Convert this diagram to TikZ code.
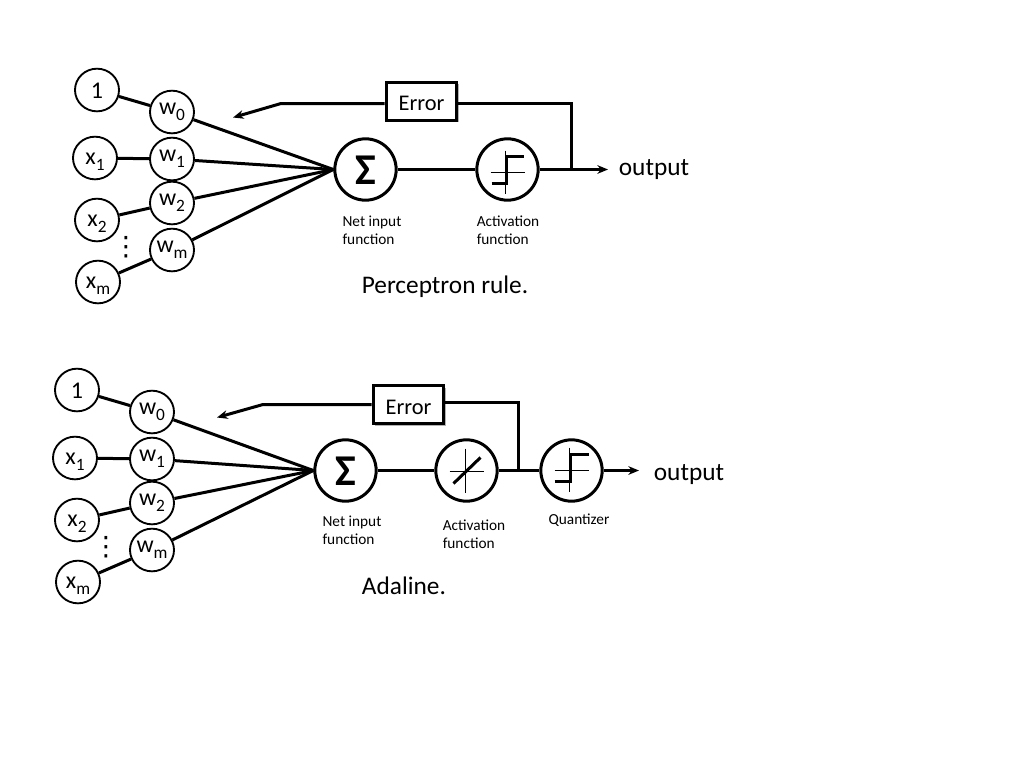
\documentclass[tikz,border=0pt]{standalone}
\usepackage{fontspec}
\setmainfont{Carlito}
\newfontfamily\symfont{DejaVu Sans}
\usetikzlibrary{shapes.geometric,arrows.meta,shadows}
\newcommand{\lowidx}[1]{\raisebox{-4.5pt}[0pt][0pt]{\fontsize{13}{13}\selectfont #1}}
\newcommand{\wlab}[1]{w\lowidx{#1}\hspace{3pt}}
\newcommand{\fsz}[1]{\fontsize{#1}{#1}\selectfont}
\tikzset{
  unit/.style={ellipse,draw=black,fill=white,line width=1.4pt,minimum width=33pt,minimum height=32pt,inner sep=0pt,font=\fsz{18},text depth=0pt},
  wunit/.style={unit,text height=3.5pt},
  xunit/.style={unit,text height=9pt},
  oneunit/.style={unit,text height=12pt},
  bigunit/.style={circle,draw=black,fill=white,line width=2.25pt,minimum size=46pt,inner sep=0pt},
  conn/.style={line width=2.25pt,draw=black},
  thinaxis/.style={line width=.9pt,draw=black},
  thickcurve/.style={line width=2.25pt,draw=black,line join=miter},
  arr/.style={line width=2.25pt,draw=black,-{Stealth[length=8pt,width=6.5pt]}},
  errbox/.style={rectangle,draw=black,fill=white,line width=2.25pt,minimum width=53pt,minimum height=28.5pt,inner sep=0pt,font=\fsz{16.8},text height=14.6pt,text depth=0pt,general shadow={fill=black!30,shadow xshift=1.5pt,shadow yshift=-1.5pt}},
  smalltxt/.style={font=\fontsize{11.5}{13.5}\selectfont,align=left,inner sep=0pt},
  bigtxt/.style={font=\fsz{19},inner sep=0pt},
  dotstxt/.style={inner sep=0pt,font=\symfont\fsz{20}},
  sumtxt/.style={font=\fsz{33}\bfseries,text height=22pt,text depth=0pt}
}
\begin{document}
\begin{tikzpicture}[x=.75pt,y=-.75pt]
\useasboundingbox (0,0) rectangle (1024,768);
% ---------- Perceptron rule ----------
\node[oneunit] (a1) at (97,90) {1};
\node[xunit] (ax1) at (95,158) {x\lowidx{1}};
\node[xunit] (ax2) at (97,220) {x\lowidx{2}};
\node[xunit] (axm) at (98,282) {x\lowidx{m}};
\node[wunit] (aw0) at (172,112) {\wlab{0}};
\node[wunit] (aw1) at (172,159) {\wlab{1}};
\node[wunit] (aw2) at (172,203) {\wlab{2}};
\node[wunit] (awm) at (172,250) {\wlab{m}};
\node[dotstxt] (adots) at (126,247) {⋮};
\node[bigunit,sumtxt] (asum) at (365.5,169.5) {Σ};
\node[bigunit] (aact) at (507.5,169.5) {};
\node[errbox] (aerr) at (421.5,101) {Error};
\coordinate (aj) at (571.5,169.5);
\coordinate (aout) at (608,169.5);
\coordinate (afb) at (281,103.5);
\coordinate (atip) at (233,117.5);
\coordinate (ac) at (571.5,103.5);
\foreach \s/\d in {a1/aw0,ax1/aw1,ax2/aw2,axm/awm}
  \draw[conn] (\s) -- (\d);
\foreach \s in {aw0,aw1,aw2,awm}
  \draw[conn] (\s) -- (asum.west);
\draw[conn] (asum) -- (aact);
\draw[arr] (aact) -- (aout);
\draw[conn] (aerr.east |- ac) -- (ac) -- (aj);
\draw[arr] (aerr.west |- afb) -- (afb) -- (atip);
\begin{scope}[shift={(aact.center)}]
  \draw[thinaxis] (-17,3) -- (17,3);
  \draw[thinaxis] (-2,-19) -- (-2,24);
  \draw[thickcurve] (-16,14) -- (-1,14) -- (-1,-13) -- (16,-13);
\end{scope}
\node[smalltxt] (an) at (372,230) {Net input\\function};
\node[smalltxt] (aa) at (508,230) {Activation\\function};
\node[bigtxt] (aoutl) at (654,170) {output};
\node[bigtxt] (atitle) at (445,286.5) {Perceptron rule.};
% ---------- Adaline ----------
\node[oneunit] (b1) at (77,390) {1};
\node[xunit] (bx1) at (75,458) {x\lowidx{1}};
\node[xunit] (bx2) at (77,520) {x\lowidx{2}};
\node[xunit] (bxm) at (78,582) {x\lowidx{m}};
\node[wunit] (bw0) at (152,412) {\wlab{0}};
\node[wunit] (bw1) at (152,459) {\wlab{1}};
\node[wunit] (bw2) at (152,503) {\wlab{2}};
\node[wunit] (bwm) at (152,550) {\wlab{m}};
\node[dotstxt] (bdots) at (106,547) {⋮};
\node[bigunit,sumtxt] (bsum) at (345.5,470.5) {Σ};
\node[bigunit] (bact) at (466.5,470.5) {};
\node[bigunit] (bq) at (571.5,470.5) {};
\node[errbox] (berr) at (408.5,404.5) {Error};
\coordinate (bj) at (518.5,470.5);
\coordinate (bout) at (639,470.5);
\coordinate (bfb) at (263,404.5);
\coordinate (btip) at (217,417.5);
\coordinate (bc) at (518.5,402.5);
\foreach \s/\d in {b1/bw0,bx1/bw1,bx2/bw2,bxm/bwm}
  \draw[conn] (\s) -- (\d);
\foreach \s in {bw0,bw1,bw2,bwm}
  \draw[conn] (\s) -- (bsum.west);
\draw[conn] (bsum) -- (bact);
\draw[conn] (bact) -- (bq);
\draw[arr] (bq) -- (bout);
\draw[conn] (berr.east |- bc) -- (bc) -- (bj);
\draw[arr] (berr.west |- bfb) -- (bfb) -- (btip);
\begin{scope}[shift={(bact.center)}]
  \draw[thinaxis] (-17,1.3) -- (17,1.3);
  \draw[thinaxis] (-1,-22) -- (-1,22);
  \draw[thickcurve] (-13,13) -- (14,-13);
\end{scope}
\begin{scope}[shift={(bq.center)}]
  \draw[thinaxis] (-17,0) -- (17,0);
  \draw[thinaxis] (-2,-23) -- (-2,21);
  \draw[thickcurve] (-17,11) -- (-1,11) -- (-1,-16) -- (17,-16);
\end{scope}
\node[smalltxt] (bn) at (352,530) {Net input\\function};
\node[smalltxt] (ba) at (474,534) {Activation\\function};
\node[smalltxt] (bql) at (579,520) {Quantizer};
\node[bigtxt] (boutl) at (689,475) {output};
\node[bigtxt] (btitle) at (404,586) {Adaline.};
\end{tikzpicture}
\end{document}
